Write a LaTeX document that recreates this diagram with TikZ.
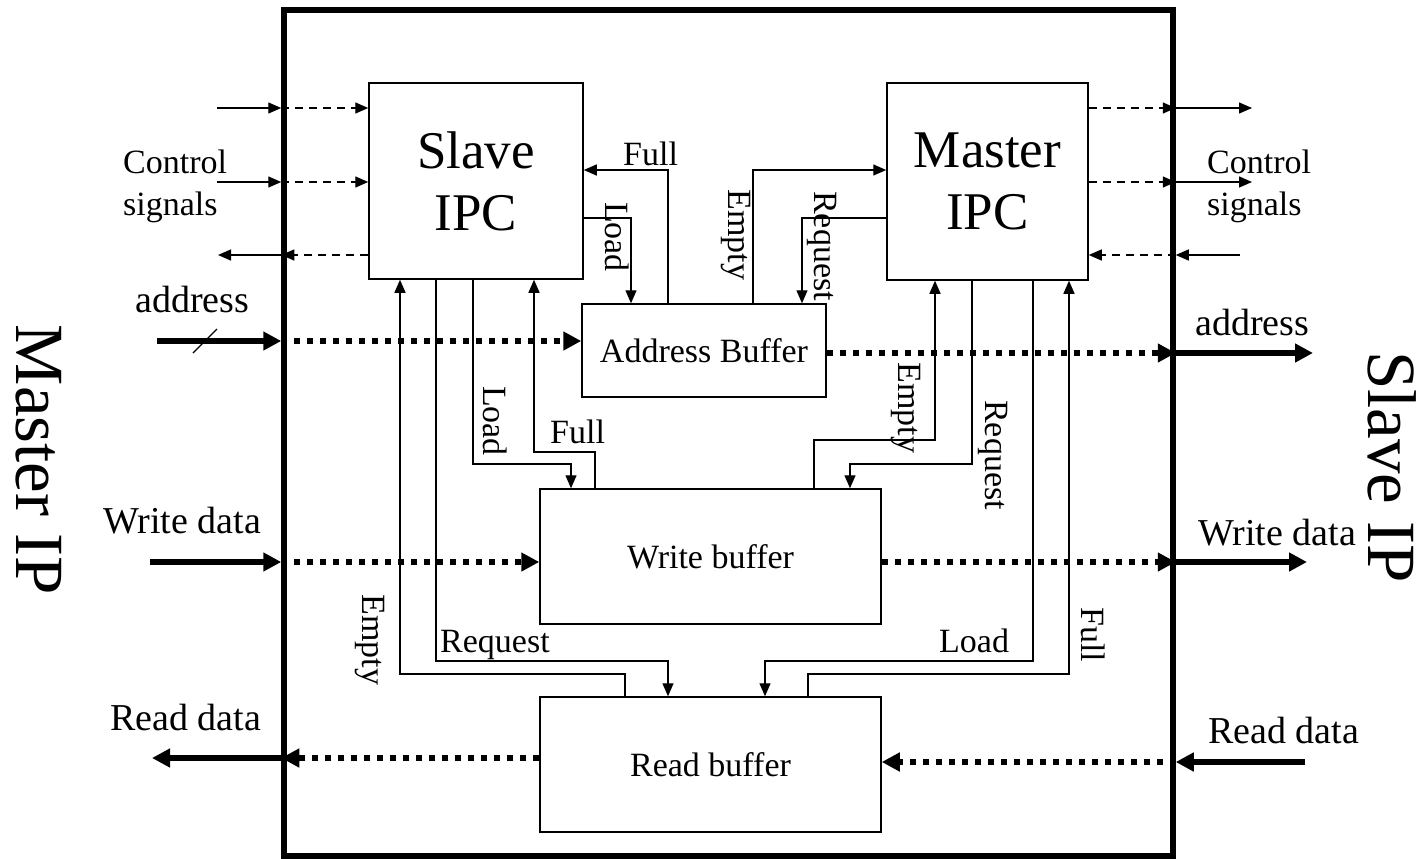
\documentclass[tikz,border=0pt]{standalone}
\usepackage{fontspec}
\setmainfont{Liberation Serif}
\usetikzlibrary{arrows.meta}
\begin{document}
\begin{tikzpicture}[x=1pt,y=-1pt,
  box/.style={draw, line width=1.5pt, inner sep=0pt},
  wire/.style={line width=1.4pt},
  thinarr/.style={wire, -{Triangle[length=13pt,width=11pt]}},
  dasharr/.style={wire, dash pattern=on 8pt off 6pt, -{Triangle[length=13pt,width=11pt]}},
  thickarr/.style={line width=6pt, -{Triangle[length=18pt,width=18pt]}},
  dotarr/.style={line width=6pt, dash pattern=on 6pt off 7pt, -{Triangle[length=18pt,width=18pt]}},
  lab/.style={font=\fontsize{34}{41}\selectfont, inner sep=0pt},
  ext/.style={font=\fontsize{38}{45}\selectfont, inner sep=0pt},
  big/.style={font=\fontsize{69}{80}\selectfont, inner sep=0pt, rotate=-90},
]
\useasboundingbox (0,0) rectangle (1422,859);

% frame and blocks
\node[draw, line width=5.5pt, minimum width=889pt, minimum height=846pt, inner sep=0pt] (frame) at (728.5,433) {};
\node[box, minimum width=214pt, minimum height=196pt, align=center,
      font=\fontsize{53}{62}\selectfont] (sipc) at (476,181) {Slave\\IPC};
\node[box, minimum width=201pt, minimum height=197pt, align=center,
      font=\fontsize{53}{62}\selectfont] (mipc) at (987.5,181.5) {Master\\IPC};
\node[box, minimum width=244pt, minimum height=93pt, font=\fontsize{34}{41}\selectfont] (ab) at (704,350.5) {Address Buffer};
\node[box, minimum width=341pt, minimum height=135pt, font=\fontsize{34}{41}\selectfont] (wb) at (710.5,556.5) {Write buffer};
\node[box, minimum width=341pt, minimum height=135pt, font=\fontsize{34}{41}\selectfont] (rb) at (710.5,764.5) {Read buffer};

% side titles
\node[big] (mip) at (39,460) {Master IP};
\node[big] (sip) at (1392,467) {Slave IP};

% external end points
\coordinate (cl1) at (217,108);
\coordinate (cl2) at (217,182);
\coordinate (cl3) at (218,255);
\coordinate (cr1) at (1252,108);
\coordinate (cr2) at (1252,182);
\coordinate (cr3) at (1240,255);
\coordinate (adL) at (157,341);
\coordinate (adR) at (1313,353);
\coordinate (wdL) at (150,562);
\coordinate (wdR) at (1307,562);
\coordinate (rdL) at (152,758);
\coordinate (rdR) at (1305,762);

% control signals, left
\draw[thinarr] (cl1) -- (cl1 -| frame.west);
\draw[dasharr] (cl1 -| frame.west) -- (cl1 -| sipc.west);
\draw[thinarr] (cl2) -- (cl2 -| frame.west);
\draw[dasharr] (cl2 -| frame.west) -- (cl2 -| sipc.west);
\draw[dasharr] (cl3 -| sipc.west) -- (cl3 -| frame.west);
\draw[thinarr] (cl3 -| frame.west) -- (cl3);
\node[lab, anchor=base west] (ctlL1) at (123,173) {Control};
\node[lab, anchor=base west] (ctlL2) at (123,215) {signals};

% control signals, right
\draw[dasharr] (cr1 -| mipc.east) -- (cr1 -| frame.east);
\draw[thinarr] (cr1 -| frame.east) -- (cr1);
\draw[dasharr] (cr2 -| mipc.east) -- (cr2 -| frame.east);
\draw[thinarr] (cr2 -| frame.east) -- (cr2);
\draw[thinarr] (cr3) -- (cr3 -| frame.east);
\draw[dasharr] (cr3 -| frame.east) -- (cr3 -| mipc.east);
\node[lab, anchor=base west] (ctlR1) at (1207,173) {Control};
\node[lab, anchor=base west] (ctlR2) at (1207,215) {signals};

% address
\draw[thickarr] (adL) -- (adL -| frame.west);
\draw[dotarr] (adL -| frame.west) -- (adL -| ab.west);
\draw[wire] (193,353) -- (217,329);
\draw[dotarr] (adR -| ab.east) -- (adR -| frame.east);
\draw[thickarr] (adR -| frame.east) -- (adR);
\node[ext, anchor=base west] (adLt) at (135,312) {address};
\node[ext, anchor=base west] (adRt) at (1195,335) {address};

% write data
\draw[thickarr] (wdL) -- (wdL -| frame.west);
\draw[dotarr] (wdL -| frame.west) -- (wdL -| wb.west);
\draw[dotarr] (wdR -| wb.east) -- (wdR -| frame.east);
\draw[thickarr] (wdR -| frame.east) -- (wdR);
\node[ext, anchor=base west] (wdLt) at (103,533) {Write data};
\node[ext, anchor=base west] (wdRt) at (1198,545) {Write data};

% read data
\draw[thickarr] (rdR) -- (rdR -| frame.east);
\draw[dotarr] (rdR -| frame.east) -- (rdR -| rb.east);
\draw[dotarr] (rdL -| rb.west) -- (rdL -| frame.west);
\draw[thickarr] (rdL -| frame.west) -- (rdL);
\node[ext, anchor=base west] (rdLt) at (110,730) {Read data};
\node[ext, anchor=base west] (rdRt) at (1208,743) {Read data};

% address buffer handshakes
\draw[thinarr] (ab.north -| 668,0) |- (sipc.east |- 0,170);
\node[lab, anchor=base west] (l1) at (623,165) {Full};
\draw[thinarr] (sipc.east |- 0,218) -| (ab.north -| 631,0);
\node[lab, rotate=-90] (l2) at (617,237) {Load};
\draw[thinarr] (ab.north -| 753,0) |- (mipc.west |- 0,170);
\node[lab, rotate=-90] (l3) at (736,235) {Empty};
\draw[thinarr] (mipc.west |- 0,218) -| (ab.north -| 802,0);
\node[lab, rotate=-90] (l4) at (822,246) {Request};

% write buffer handshakes
\draw[thinarr] (sipc.south -| 473,0) |- (571,464) -- (wb.north -| 571,0);
\node[lab, rotate=-90] (l5) at (495,421) {Load};
\draw[thinarr] (wb.north -| 595,0) |- (534,452) -- (sipc.south -| 534,0);
\node[lab, anchor=base west] (l6) at (550,443) {Full};
\draw[thinarr] (wb.north -| 814,0) |- (935,440) -- (mipc.south -| 935,0);
\node[lab, rotate=-90] (l7) at (906,408) {Empty};
\draw[thinarr] (mipc.south -| 972,0) |- (850,464) -- (wb.north -| 850,0);
\node[lab, rotate=-90] (l8) at (993,455) {Request};

% read buffer handshakes
\draw[thinarr] (rb.north -| 625,0) |- (400,674) -- (sipc.south -| 400,0);
\node[lab, rotate=-90] (l9) at (370,640) {Empty};
\draw[thinarr] (sipc.south -| 436,0) |- (668,661) -- (rb.north -| 668,0);
\node[lab, anchor=base west] (l10) at (440,652) {Request};
\draw[thinarr] (mipc.south -| 1033,0) |- (765,661) -- (rb.north -| 765,0);
\node[lab, anchor=base west] (l11) at (939,652) {Load};
\draw[thinarr] (rb.north -| 808,0) |- (1069,674) -- (mipc.south -| 1069,0);
\node[lab, rotate=-90] (l12) at (1093,635) {Full};
\end{tikzpicture}
\end{document}
